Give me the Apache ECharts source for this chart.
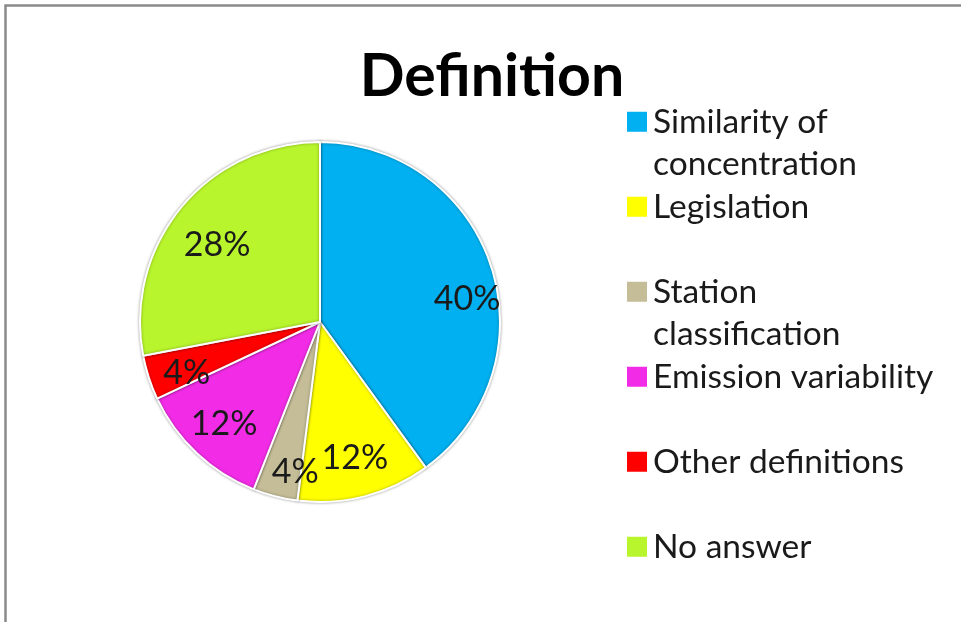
<!DOCTYPE html>
<html>
<head>
<meta charset="utf-8">
<script src="https://cdn.jsdelivr.net/npm/echarts@6/dist/echarts.min.js"></script>
<style>
html,body{margin:0;padding:0;background:#fff;}
#chart{width:961px;height:622px;}
</style>
</head>
<body>
<div id="chart"></div>
<script>
const titleText = 'Definition';
const categories = ['Similarity of concentration', 'Legislation', 'Station classification', 'Emission variability', 'Other definitions', 'No answer'];
const legendLabels = [' \nSimilarity of\nconcentration', ' \nLegislation\n ', ' \nStation\nclassification', ' \nEmission variability\n ', ' \nOther definitions\n ', ' \nNo answer\n '];
const values = [40, 12, 4, 12, 4, 28];
const colors = ['#00B0F0', '#FFFF00', '#C4BD97', '#F22CE6', '#FF0000', '#B8F52C'];

const FONT = 'Lato, "Open Sans", sans-serif';
const chart = echarts.init(document.getElementById('chart'));

const legendMap = {};
categories.forEach((c, i) => legendMap[c] = legendLabels[i]);

const labelNudges = {0: [14, 20], 2: [10, 14], 4: [0, 8], 5: [5, 12]};
const baseData = categories.map((c, i) => ({name: c, value: values[i], itemStyle: {color: colors[i]}}));
const labelData = categories.map((c, i) => {
  const d = {name: c, value: values[i]};
  if (labelNudges[i]) d.label = {offset: labelNudges[i]};
  return d;
});

chart.setOption({
  animation: false,
  backgroundColor: '#fff',
  title: {
    text: titleText,
    left: 487, top: 42, textAlign: 'center',
    textStyle: {fontFamily: FONT, fontWeight: 'bold', fontSize: 59, color: '#000'}
  },
  legend: {
    orient: 'vertical',
    left: 625, top: 58,
    padding: 0,
    itemWidth: 22, itemHeight: 22,
    itemGap: -42.5,
    icon: 'rect',
    data: categories,
    formatter: n => legendMap[n],
    textStyle: {fontFamily: FONT, fontSize: 33.5, color: '#1a1a1a', lineHeight: 42.5}
  },
  graphic: [{
    type: 'rect', silent: true, z: -10,
    shape: {x: 5.5, y: 5.5, width: 1200, height: 800},
    style: {fill: 'none', stroke: '#8a8a8a', lineWidth: 2.5}
  }],
  series: [{
    type: 'pie',
    center: [320, 322],
    radius: [0, 180],
    startAngle: 90,
    clockwise: true,
    data: baseData,
    label: {show: false},
    labelLine: {show: false},
    itemStyle: {borderColor: '#fff', borderWidth: 2, shadowBlur: 3, shadowColor: 'rgba(0,0,0,0.35)'},
    emphasis: {disabled: true}
  }, {
    type: 'pie',
    center: [320, 322],
    radius: [94, 180],
    startAngle: 90,
    clockwise: true,
    silent: true,
    data: labelData,
    itemStyle: {color: 'rgba(0,0,0,0)'},
    label: {show: true, position: 'inside', formatter: '{c}%', fontFamily: FONT, fontSize: 34, color: '#1a1a1a'},
    labelLine: {show: false},
    emphasis: {disabled: true}
  }]
});
</script>
</body>
</html>
